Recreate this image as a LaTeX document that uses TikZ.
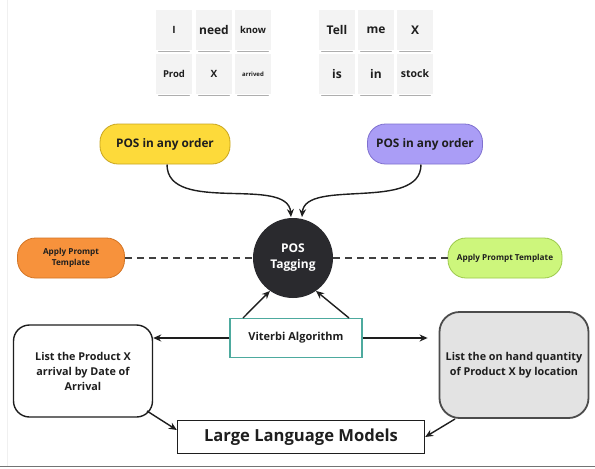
\documentclass[tikz,border=0pt]{standalone}
\usepackage{fontspec}
\setmainfont{Open Sans}
\usetikzlibrary{arrows.meta,shapes.geometric,positioning}
\definecolor{ink}{HTML}{1E1E1E}
\definecolor{yel}{HTML}{FDDA3A}
\definecolor{yelb}{HTML}{C9A620}
\definecolor{pur}{HTML}{AA9DF6}
\definecolor{purb}{HTML}{7F70CF}
\definecolor{ora}{HTML}{F7923C}
\definecolor{orab}{HTML}{D37424}
\definecolor{gre}{HTML}{CDF67C}
\definecolor{greb}{HTML}{9CC94C}
\definecolor{teal}{HTML}{4DAA9E}
\definecolor{dark}{HTML}{2A2A2E}
\definecolor{lgray}{HTML}{E3E3E3}
\definecolor{note}{HTML}{F3F3F3}
\begin{document}
\begin{tikzpicture}[x=1pt,y=-1pt,
  font=\bfseries, text=ink,
  sticky/.style={fill=note, minimum width=36pt, minimum height=40pt, inner sep=0pt},
  pill/.style={rounded corners=18pt, draw, line width=0.8pt, align=center},
  arr/.style={draw=ink, line width=1.4pt, -{Stealth[length=8pt,width=7pt]}},
  dashline/.style={draw=ink!85, line width=1.6pt, dash pattern=on 7pt off 5pt},
  shadowline/.style={draw=black!45, line width=1.3pt, line cap=round, opacity=0.7}
]
\useasboundingbox (0,0) rectangle (595,469);
\fill[white] (0,0) rectangle (595,469);
\draw[black!55, line width=1pt] (0,466) -- (595,466);
\draw[black!6, line width=0.6pt] (7,0) -- (7,466);

% sticky notes
\foreach \x/\y/\t/\s/\n in {174/30/I/10/s1, 214/30/need/12/s2, 253/30/know/9.5/s3,
  174/74/Prod/9.5/s4, 214/74/X/10/s5, 253/74/arrived/6/s6,
  337/30/Tell/12/s7, 376/30/me/12/s8, 415/30/X/12/s9,
  337/74/is/12/s10, 376/74/in/12/s11, 415/74/stock/10.5/s12}{
  \node[sticky, font=\fontsize{\s}{\s}\selectfont\bfseries] (\n) at (\x,\y) {\t};
  \draw[shadowline] ([xshift=3pt,yshift=-1pt]\n.south west) -- ([xshift=-3pt,yshift=-1pt]\n.south east);
}

% pills
\node[pill, fill=yel, draw=yelb, minimum width=130pt, minimum height=40pt, font=\fontsize{11.8}{13}\selectfont\bfseries] (yp) at (165,144) {POS in any order};
\node[pill, fill=pur, draw=purb, minimum width=115pt, minimum height=40pt, font=\fontsize{11.8}{13}\selectfont\bfseries] (pp) at (425,144) {POS in any order};
\node[pill, fill=ora, draw=orab, minimum width=107pt, minimum height=40pt, font=\fontsize{8.2}{11}\selectfont\bfseries] (op) at (71,258) {Apply Prompt\\Template};
\node[pill, fill=gre, draw=greb, minimum width=114pt, minimum height=40pt, font=\fontsize{8.2}{11}\selectfont\bfseries] (gp) at (505,258) {Apply Prompt Template};

% circle
\node[circle, fill=dark, minimum size=80pt, inner sep=0pt, text=white, align=center, font=\fontsize{12}{16}\selectfont\bfseries] (pos) at (293,258) {POS\\Tagging};

% viterbi
\node[draw=teal, line width=1.4pt, fill=white, minimum width=132pt, minimum height=39pt, font=\fontsize{11}{13}\selectfont\bfseries] (vit) at (296,338) {Viterbi Algorithm};

% side boxes
\node[draw=ink, line width=1.4pt, rounded corners=16pt, fill=white, minimum width=139pt, minimum height=92pt, align=center, font=\fontsize{10.8}{15}\selectfont\bfseries] (lb) at (83,371) {List the Product X\\arrival by Date of\\Arrival};
\node[draw=black!70, line width=1.8pt, rounded corners=20pt, fill=lgray, minimum width=149pt, minimum height=106pt, align=center, font=\fontsize{10.8}{15}\selectfont\bfseries] (rb) at (514,365) {List the on hand quantity\\of Product X by location};

% LLM
\node[draw=ink, line width=1.4pt, fill=white, minimum width=247pt, minimum height=33pt, font=\fontsize{16.6}{19}\selectfont\bfseries] (llm) at (301,437) {Large Language Models};

% connectors
\draw[arr] (167,164.5) .. controls (167,215) and (288,175) .. (291,217);
\draw[arr] (421,164.5) .. controls (421,212) and (305,178) .. (302,217);
\draw[dashline] (op.east) -- (pos.west);
\draw[dashline] (pos.east) -- (gp.west);
\draw[arr] (243,318) -- (pos.235);
\draw[arr] (349,318) -- (pos.-55);
\draw[arr] (vit.west) -- (lb.east |- vit.west);
\draw[arr, shorten >=11pt] (vit.east) -- (rb.west |- vit.east);
\draw[arr] (147,411) -- ([yshift=7pt]llm.west);
\draw[arr] (455,419) -- (llm.east);
\end{tikzpicture}
\end{document}
